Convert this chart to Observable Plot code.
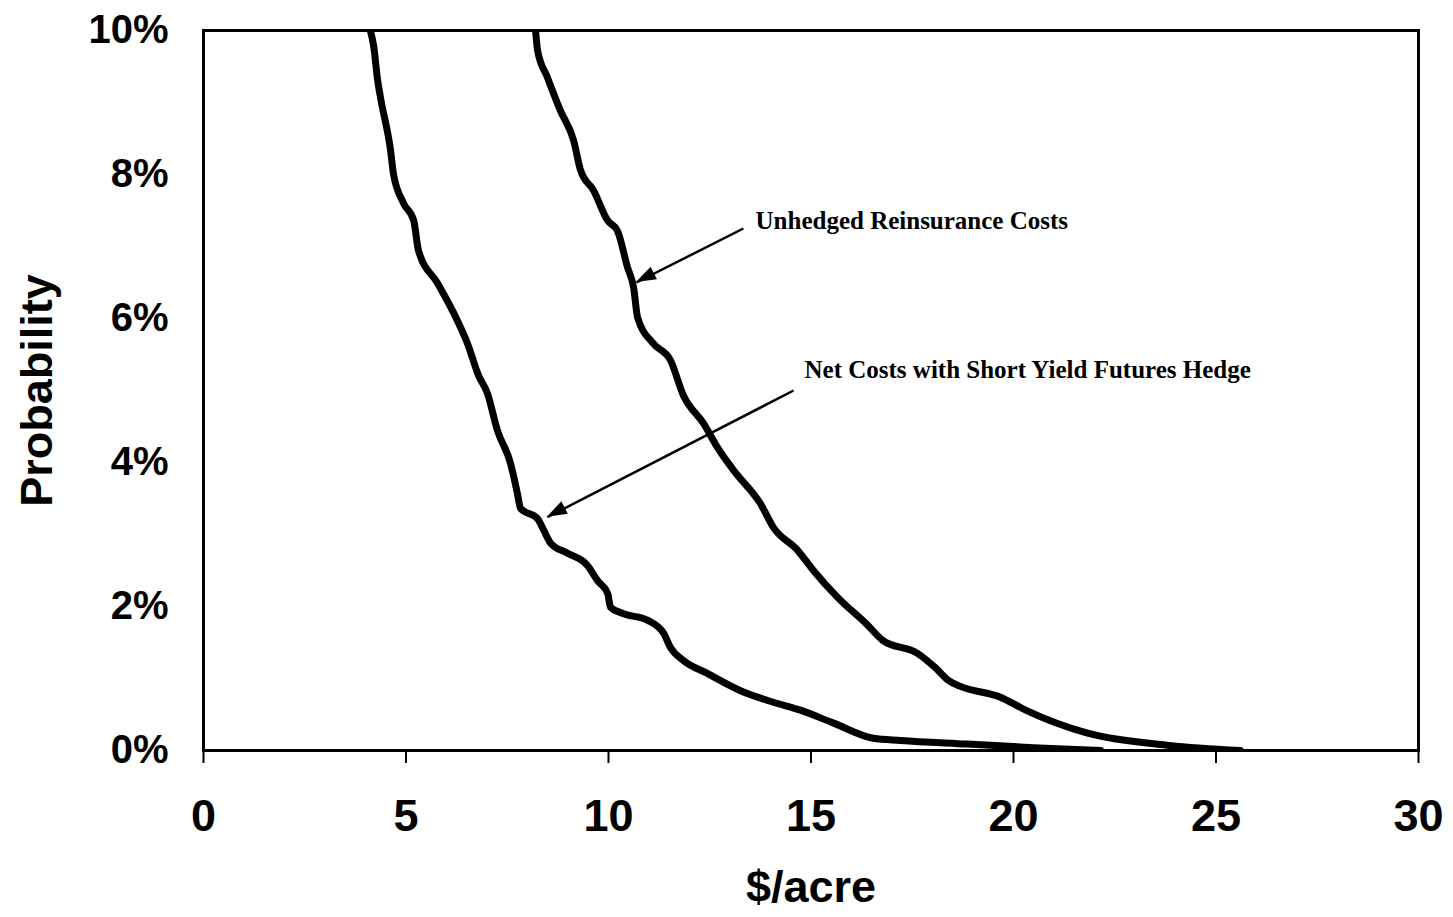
<!DOCTYPE html>
<html>
<head>
<meta charset="utf-8">
<script src="https://cdn.jsdelivr.net/npm/d3@7"></script>
<script src="https://cdn.jsdelivr.net/npm/@observablehq/plot@0.6"></script>
<style>
  html, body { margin: 0; padding: 0; background: #fff; }
  #chart { width: 1453px; height: 917px; }
</style>
</head>
<body>
<div id="chart"></div>
<script>
// ---- data ----
const xTicks = [0, 5, 10, 15, 20, 25, 30];
const yTicks = [0, 2, 4, 6, 8, 10];

// Net Costs with Short Yield Futures Hedge ($/acre, probability %)
const netX = [4.12, 4.20, 4.30, 4.37, 4.62, 4.69, 4.94, 5.19, 5.31, 5.78, 6.27, 6.52, 6.79, 7.01, 7.26, 7.58, 7.75, 7.83, 8.25, 8.40, 8.57, 8.99, 9.48, 9.73, 9.98, 10.05, 10.37, 10.96, 11.36, 11.53, 11.85, 12.44, 13.26, 14.07, 14.74, 15.56, 16.54, 17.21, 18.86, 20.49, 22.15];
const netP = [10.0, 9.79, 9.31, 9.07, 8.33, 8.01, 7.60, 7.36, 6.94, 6.49, 5.97, 5.65, 5.21, 4.96, 4.44, 3.99, 3.57, 3.36, 3.22, 3.06, 2.88, 2.74, 2.57, 2.36, 2.18, 1.99, 1.90, 1.81, 1.63, 1.43, 1.25, 1.07, 0.83, 0.67, 0.56, 0.38, 0.17, 0.14, 0.09, 0.04, 0.0];

// Unhedged Reinsurance Costs
const uhX = [8.20, 8.25, 8.49, 8.81, 9.14, 9.31, 9.63, 9.98, 10.22, 10.47, 10.62, 10.72, 11.11, 11.53, 11.85, 12.35, 12.69, 13.09, 13.75, 14.07, 14.67, 15.06, 15.65, 16.40, 16.77, 17.63, 18.07, 18.40, 18.69, 19.68, 20.30, 21.83, 23.85, 25.60];
const uhP = [10.0, 9.72, 9.35, 8.89, 8.47, 8.06, 7.78, 7.36, 7.22, 6.71, 6.43, 6.01, 5.65, 5.42, 4.93, 4.54, 4.21, 3.89, 3.43, 3.10, 2.78, 2.50, 2.13, 1.74, 1.53, 1.35, 1.15, 0.97, 0.89, 0.74, 0.56, 0.24, 0.07, 0.0];

// annotations
const labels = ["Unhedged Reinsurance Costs", "Net Costs with Short Yield Futures Hedge"];
const labelX = [13.63, 14.84];
const labelP = [7.35, 5.29];
const arrowX1 = [13.33, 14.57];
const arrowP1 = [7.25, 5.00];
const arrowX2 = [10.69, 8.49];
const arrowP2 = [6.50, 3.24];

// ---- tables ----
const net = netX.map((x, i) => ({x, p: netP[i]}));
const uh = uhX.map((x, i) => ({x, p: uhP[i]}));
const ann = labels.map((t, i) => ({t, x: labelX[i], p: labelP[i], x1: arrowX1[i], p1: arrowP1[i], x2: arrowX2[i], p2: arrowP2[i]}));

function arrowHeads(index, scales) {
  const g = d3.create("svg:g").attr("fill", "#000");
  for (const a of ann) {
    const sx = scales.x(a.x1), sy = scales.y(a.p1);
    const tx = scales.x(a.x2), ty = scales.y(a.p2);
    const len = Math.hypot(tx - sx, ty - sy);
    const ux = (tx - sx) / len, uy = (ty - sy) / len;
    const L = 20, W = 7;
    const bx = tx - ux * L, by = ty - uy * L;
    g.append("path").attr("d",
      `M${tx},${ty}L${bx - uy * W},${by + ux * W}L${bx + uy * W},${by - ux * W}Z`);
  }
  return g.node();
}

const chart = Plot.plot({
  width: 1453,
  height: 917,
  marginLeft: 203,
  marginRight: 35,
  marginTop: 30,
  marginBottom: 167,
  style: {fontFamily: "'Liberation Sans', Arial, sans-serif", fontWeight: "bold", color: "#000", background: "#fff"},
  x: {domain: [0, 30]},
  y: {domain: [0, 10]},
  marks: [
    Plot.axisX({ticks: xTicks, tickSize: 13, tickPadding: 36, fontSize: 45, label: null, strokeWidth: 2}),
    Plot.axisY({ticks: yTicks, tickSize: 0, tickPadding: 35, fontSize: 40, label: null, tickFormat: d => d + "%"}),
    Plot.text(["Probability"], {frameAnchor: "left", dx: -166, rotate: -90, fontSize: 45, lineAnchor: "middle", textAnchor: "middle"}),
    Plot.text(["$/acre"], {frameAnchor: "bottom", dy: 137, fontSize: 45, lineAnchor: "middle", textAnchor: "middle"}),
    Plot.line(uh, {x: "x", y: "p", stroke: "#000", strokeWidth: 7, curve: "monotone-x", clip: true}),
    Plot.line(net, {x: "x", y: "p", stroke: "#000", strokeWidth: 7, curve: "monotone-x", clip: true}),
    Plot.link(ann, {x1: "x1", y1: "p1", x2: "x2", y2: "p2", stroke: "#000", strokeWidth: 2.5}),
    arrowHeads,
    Plot.text(ann, {x: "x", y: "p", text: "t", textAnchor: "start", lineAnchor: "middle", fontSize: 25, fontFamily: "'Liberation Serif', 'Times New Roman', serif", fontWeight: "bold"}),
    Plot.frame({stroke: "#000", strokeWidth: 3})
  ]
});
document.getElementById("chart").append(chart);
</script>
</body>
</html>
